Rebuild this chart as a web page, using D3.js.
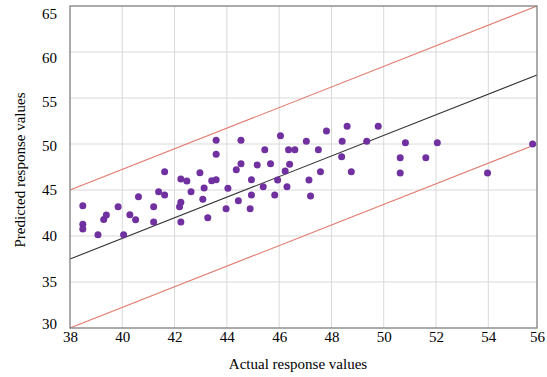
<!DOCTYPE html>
<html>
<head>
<meta charset="utf-8">
<script src="https://cdn.jsdelivr.net/npm/d3@7"></script>
<style>
  body { margin: 0; background: #fff; }
  svg { display: block; font-family: "Liberation Serif", "Times New Roman", serif; }
  svg text { font-family: "Liberation Serif", "Times New Roman", serif; }
</style>
</head>
<body>
<svg id="chart" width="547" height="377"></svg>
<script>
// data
const actual = [
  38.49, 38.49, 38.49, 39.07, 39.29, 39.39, 39.84, 40.05, 40.29, 40.51,
  40.62, 41.2, 41.2, 41.39, 41.62, 41.62, 42.24, 42.24, 42.19, 42.24,
  42.47, 42.63, 42.97, 43.13, 43.08, 43.27, 43.42, 43.59, 43.59, 43.59,
  44.04, 43.97, 44.36, 44.54, 44.54, 44.44, 44.89, 44.94, 44.94, 45.16,
  45.39, 45.45, 45.67, 45.83, 45.94, 46.05, 46.3, 46.23, 46.4, 46.36,
  46.6, 47.04, 47.14, 47.2, 47.5, 47.58, 47.81, 48.41, 48.39, 48.6,
  48.76, 49.35, 49.79, 50.83, 50.63, 50.63, 51.61, 52.05, 53.97, 55.82
];
const predicted = [
  43.3, 41.27, 40.76, 40.14, 41.8, 42.28, 43.18, 40.14, 42.3, 41.77,
  44.27, 43.18, 41.52, 44.82, 44.46, 46.99, 46.2, 43.66, 43.18, 41.52,
  45.98, 44.82, 46.88, 45.22, 43.99, 41.99, 46.01, 46.12, 50.4, 48.88,
  45.18, 42.97, 47.21, 47.86, 50.4, 43.84, 42.97, 44.46, 46.12, 47.72,
  45.36, 49.38, 47.86, 44.46, 46.09, 50.9, 45.36, 47.07, 47.79, 49.38,
  49.38, 50.29, 46.09, 44.35, 49.38, 46.99, 51.41, 50.29, 48.62, 51.92,
  46.99, 50.29, 51.92, 50.14, 48.51, 46.85, 48.51, 50.14, 46.85, 50.0
];
const xTicks = [38, 40, 42, 44, 46, 48, 50, 52, 54, 56];
const yTicks = [30, 35, 40, 45, 50, 55, 60, 65];
// fit line and +/- band, as [x0, y0, x1, y1]
const fitLine = [38, 37.5, 56, 57.5];
const upperBand = [38, 45, 56, 65];
const lowerBand = [38, 30, 56, 50];

const svg = d3.select('#chart');
const plot = { left: 70, right: 537, top: 6, bottom: 328 };
const serif = '"Liberation Serif", "Times New Roman", serif';

const x = d3.scaleLinear().domain([38, 54, 56]).range([plot.left, 488.3, plot.right]);
const y = d3.scaleLinear().domain([30, 65]).range([plot.bottom, plot.top]);
// the y tick labels sit a little inside the frame at the ends
const yLabel = d3.scaleLinear().domain([30, 35, 45, 65]).range([323.3, 281.3, 190, 13.3]);

// grid
svg.append('g')
  .selectAll('line')
  .data(xTicks.slice(1, -1))
  .join('line')
  .attr('x1', d => x(d)).attr('x2', d => x(d))
  .attr('y1', plot.top).attr('y2', plot.bottom)
  .attr('stroke', '#d9d9d9')
  .attr('stroke-width', 1);

svg.append('g')
  .selectAll('line')
  .data(yTicks.slice(1, -1))
  .join('line')
  .attr('x1', plot.left).attr('x2', plot.right)
  .attr('y1', d => y(d)).attr('y2', d => y(d))
  .attr('stroke', '#d9d9d9')
  .attr('stroke-width', 1);

// reference lines
const lines = [
  { v: upperBand, color: '#e07a6c' },
  { v: lowerBand, color: '#e07a6c' },
  { v: fitLine, color: '#333333' }
];
svg.append('g')
  .selectAll('line')
  .data(lines)
  .join('line')
  .attr('x1', d => x(d.v[0])).attr('y1', d => y(d.v[1]))
  .attr('x2', d => x(d.v[2])).attr('y2', d => y(d.v[3]))
  .attr('stroke', d => d.color)
  .attr('stroke-width', 1.1);

// points
svg.append('g')
  .selectAll('circle')
  .data(actual.map((a, i) => [a, predicted[i]]))
  .join('circle')
  .attr('cx', d => x(d[0]))
  .attr('cy', d => y(d[1]))
  .attr('r', 3.5)
  .attr('fill', '#7030a0');

// frame
svg.append('rect')
  .attr('x', plot.left).attr('y', plot.top)
  .attr('width', plot.right - plot.left).attr('height', plot.bottom - plot.top)
  .attr('fill', 'none')
  .attr('stroke', '#7f7f7f')
  .attr('stroke-width', 1.3);

// x tick labels
const xAxis = svg.append('g')
  .attr('transform', `translate(0,${plot.bottom})`)
  .call(d3.axisBottom(x).tickValues(xTicks).tickSize(0).tickPadding(3).tickFormat(d3.format('d')));
xAxis.attr('font-family', serif).attr('font-size', 15);
xAxis.select('.domain').remove();
xAxis.selectAll('text').attr('fill', '#000');

// y tick labels
const yAxis = svg.append('g')
  .attr('transform', 'translate(57,0)')
  .call(d3.axisLeft(yLabel).tickValues(yTicks).tickSize(0).tickPadding(0).tickFormat(d3.format('d')));
yAxis.attr('font-family', serif).attr('font-size', 15);
yAxis.select('.domain').remove();
yAxis.selectAll('text').attr('fill', '#000');

// axis titles
svg.append('text')
  .attr('x', 298)
  .attr('y', 369)
  .attr('text-anchor', 'middle')
  .attr('font-size', 15)
  .text('Actual response values');

svg.append('text')
  .attr('transform', 'translate(25,170) rotate(-90)')
  .attr('text-anchor', 'middle')
  .attr('font-size', 15)
  .text('Predicted response values');
</script>
</body>
</html>
